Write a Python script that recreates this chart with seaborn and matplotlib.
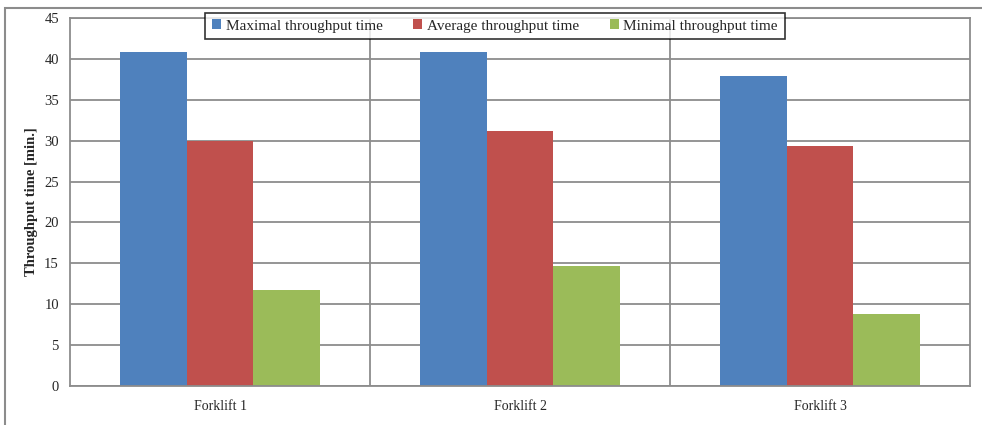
import pandas as pd
import matplotlib.pyplot as plt
import seaborn as sns
from matplotlib.patches import Rectangle

forklifts = ['Forklift 1', 'Forklift 2', 'Forklift 3']
series = ['Maximal throughput time', 'Average throughput time', 'Minimal throughput time']
max_time = [40.8, 40.8, 37.9]
avg_time = [29.9, 31.2, 29.3]
min_time = [11.7, 14.7, 8.8]
colors = ['#4F81BD', '#C0504D', '#9BBB59']

df = pd.DataFrame({
    'forklift': forklifts * 3,
    'series': [series[0]] * 3 + [series[1]] * 3 + [series[2]] * 3,
    'value': max_time + avg_time + min_time,
})

sns.set_style('white')
plt.rcParams['font.family'] = ['Liberation Serif', 'DejaVu Serif']

fig = plt.figure(figsize=(9.82, 4.25), dpi=100)
ax = fig.add_axes([70 / 982, 1 - 386 / 425, 900 / 982, 368 / 425])

sns.barplot(data=df, x='forklift', y='value', hue='series', hue_order=series,
            palette=colors, width=0.667, saturation=1, linewidth=0, ax=ax, legend=True)

ax.set_ylim(0, 45)
ax.set_xlim(-0.5, 2.5)
ax.set_yticks(range(0, 46, 5))
ax.yaxis.grid(True, color='#8c8c8c', linewidth=1.3)
ax.set_axisbelow(True)
for x in [0.5, 1.5]:
    ax.axvline(x, color='#8c8c8c', linewidth=1.3, zorder=0)
for s in ax.spines.values():
    s.set_color('#8c8c8c')
    s.set_linewidth(1.3)
ax.set_xticks([0, 1, 2])
ax.set_xticklabels(forklifts, fontsize=10)
ax.tick_params(axis='x', length=0, pad=10)
ax.tick_params(axis='y', length=5, color='#8c8c8c', direction='out', labelsize=10.5, pad=3)
ax.set_xlabel('')
ax.set_ylabel('Throughput time [min.]', fontsize=10.5, fontweight='bold')
ax.yaxis.set_label_coords(-0.036, 0.5)

leg = ax.legend(loc='center', bbox_to_anchor=(495 / 982, 1 - 26 / 425), bbox_transform=fig.transFigure,
                ncol=3, frameon=True, fancybox=False, fontsize=11, handlelength=0.6, handleheight=0.6,
                handletextpad=0.3, columnspacing=2.0, borderpad=0.45)
leg.get_frame().set_edgecolor('black')
leg.get_frame().set_linewidth(1.2)

fig.patches.append(Rectangle((5 / 982, -0.1), 1.1, 1 - 8 / 425 + 0.1, transform=fig.transFigure,
                             fill=False, edgecolor='#8c8c8c', linewidth=1.5))

fig.savefig('out.png', dpi=100)
